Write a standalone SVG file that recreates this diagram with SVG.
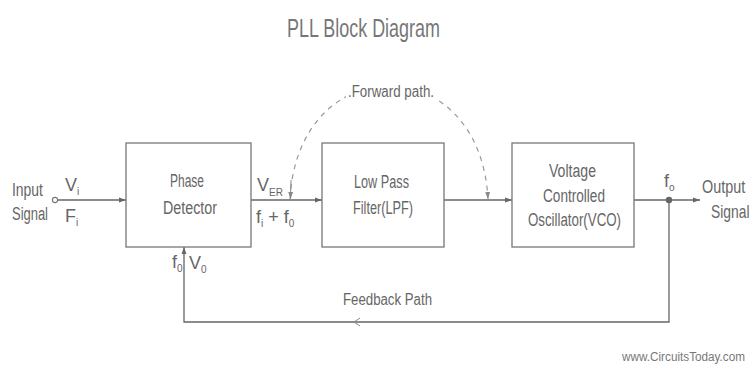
<svg xmlns="http://www.w3.org/2000/svg" width="752" height="369" viewBox="0 0 752 369">
<style>
text{font-family:"Liberation Sans",Arial,sans-serif;fill:#666;font-size:18px}
.sub{font-size:10px}
.box{fill:#fff;stroke:#777;stroke-width:1.3}
.ln{fill:none;stroke:#666;stroke-width:1.3}
.dash{fill:none;stroke:#999;stroke-width:1.2;stroke-dasharray:5 5}
</style>
<defs>
<marker id="ah" viewBox="0 0 10 10" refX="10" refY="5" markerWidth="7" markerHeight="7" orient="auto" markerUnits="userSpaceOnUse">
<path d="M0,1.5 L10,5 L0,8.5 z" fill="#666"/>
</marker>
<marker id="ahd" viewBox="0 0 10 10" refX="10" refY="5" markerWidth="7" markerHeight="7" orient="auto" markerUnits="userSpaceOnUse">
<path d="M0,1.5 L10,5 L0,8.5 z" fill="#888"/>
</marker>
</defs>
<rect width="752" height="369" fill="#fff"/>
<text x="287" y="37" style="font-size:25px;fill:#777" textLength="153" lengthAdjust="spacingAndGlyphs">PLL Block Diagram</text>

<g id="connectors">
<line x1="57.5" y1="200" x2="126" y2="200" class="ln" marker-end="url(#ah)"/>
<line x1="251" y1="200" x2="322" y2="200" class="ln" marker-end="url(#ah)"/>
<line x1="444" y1="200" x2="512" y2="200" class="ln" marker-end="url(#ah)"/>
<line x1="634" y1="200" x2="700" y2="200" class="ln" marker-end="url(#ah)"/>
<polyline points="669,200 669,322 184,322 184,247" class="ln" marker-end="url(#ah)"/>
<path d="M360,318 L354,322 L360,326" fill="none" stroke="#888" stroke-width="1"/>
<path d="M290,199 C298,48 480,48 488,199" class="dash" marker-end="url(#ahd)"/>
<path d="M291,180 L290.5,199" fill="none" stroke="#888" stroke-width="1" marker-end="url(#ahd)"/>
<circle cx="55" cy="200" r="2.6" fill="#fff" stroke="#777" stroke-width="1.1"/>
<circle cx="669" cy="200" r="3.2" fill="#666"/>
</g>

<g id="input-signal">
<text x="12" y="196" textLength="31" lengthAdjust="spacingAndGlyphs">Input</text>
<text x="12" y="220" textLength="36" lengthAdjust="spacingAndGlyphs">Signal</text>
<text x="65" y="191">V<tspan class="sub" dy="4">i</tspan></text>
<text x="65" y="222">F<tspan class="sub" dy="4">i</tspan></text>
</g>

<g id="phase-detector">
<rect x="126" y="143" width="125" height="104" class="box"/>
<text x="170" y="187" textLength="34" lengthAdjust="spacingAndGlyphs">Phase</text>
<text x="163" y="214" textLength="54" lengthAdjust="spacingAndGlyphs">Detector</text>
</g>

<g id="pd-labels">
<text x="257" y="191">V<tspan class="sub" dy="5">ER</tspan></text>
<text x="256" y="223">f<tspan class="sub" dy="4">i</tspan><tspan dy="-4"> + f</tspan><tspan class="sub" dy="4">0</tspan></text>
<text x="172" y="268">f<tspan class="sub" dy="4">0</tspan></text>
<text x="189" y="269">V<tspan class="sub" dy="4">0</tspan></text>
</g>

<g id="lpf">
<rect x="322" y="143" width="122" height="104" class="box"/>
<text x="354" y="188" textLength="55" lengthAdjust="spacingAndGlyphs">Low Pass</text>
<text x="353" y="214" textLength="60" lengthAdjust="spacingAndGlyphs">Filter(LPF)</text>
</g>

<g id="vco">
<rect x="512" y="143" width="122" height="104" class="box"/>
<text x="549" y="177" textLength="47" lengthAdjust="spacingAndGlyphs">Voltage</text>
<text x="543" y="202" textLength="62" lengthAdjust="spacingAndGlyphs">Controlled</text>
<text x="528" y="226" textLength="93" lengthAdjust="spacingAndGlyphs">Oscillator(VCO)</text>
</g>

<g id="output-signal">
<text x="664" y="187">f<tspan class="sub" dy="4">o</tspan></text>
<text transform="translate(702,193) scale(0.8,1)">Output</text>
<text transform="translate(711,218) scale(0.77,1)">Signal</text>
</g>

<g id="forward-label">
<rect x="346" y="80" width="90" height="22" fill="#fff"/>
<text x="348" y="97" style="font-size:16px" textLength="86" lengthAdjust="spacingAndGlyphs">.Forward path.</text>
</g>

<g id="feedback-label">
<text x="343" y="305" style="font-size:16px" textLength="89" lengthAdjust="spacingAndGlyphs">Feedback Path</text>
</g>

<text x="622" y="361" style="font-size:12px;fill:#777" textLength="123" lengthAdjust="spacingAndGlyphs">www.CircuitsToday.com</text>
</svg>
